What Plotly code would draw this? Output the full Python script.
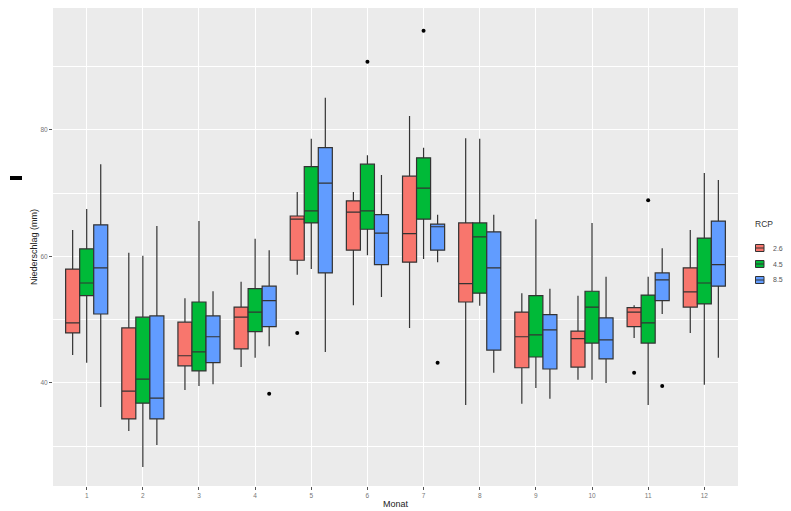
import plotly.graph_objects as go

months = list(range(1, 13))
month_labels = [str(m) for m in months]
rcp_names = ["2.6", "4.5", "8.5"]
rcp_colors = ["#F8766D", "#00BA38", "#619CFF"]

# per RCP: lower whisker, q1, median, q3, upper whisker (per month)
low = {
    "2.6": [44.4, 32.4, 38.9, 42.5, 57.1, 52.3, 48.7, 36.5, 36.7, 40.5, 47.1, 47.9],
    "4.5": [43.2, 26.7, 39.5, 44.0, 58.0, 60.2, 59.6, 52.2, 39.2, 40.5, 36.5, 39.7],
    "8.5": [36.2, 30.2, 39.8, 45.8, 44.9, 53.6, 59.1, 41.6, 37.5, 40.0, 50.9, 44.0],
}
q1 = {
    "2.6": [47.9, 34.3, 42.7, 45.4, 59.4, 61.0, 59.1, 52.8, 42.4, 42.5, 48.9, 52.0],
    "4.5": [53.8, 36.8, 41.9, 48.1, 65.3, 64.3, 65.9, 54.2, 44.1, 46.3, 46.3, 52.5],
    "8.5": [50.9, 34.3, 43.2, 48.9, 57.4, 58.7, 61.0, 45.2, 42.2, 43.8, 53.0, 55.3],
}
med = {
    "2.6": [49.5, 38.7, 44.3, 50.4, 65.9, 67.0, 63.6, 55.7, 47.3, 47.0, 51.2, 54.4],
    "4.5": [55.8, 40.6, 44.9, 51.2, 67.2, 67.2, 70.8, 63.1, 47.6, 52.0, 49.5, 55.8],
    "8.5": [58.2, 37.6, 47.3, 53.0, 71.6, 63.7, 64.7, 58.2, 48.4, 46.8, 56.3, 58.7],
}
q3 = {
    "2.6": [58.0, 48.7, 49.6, 52.0, 66.4, 68.8, 72.7, 65.3, 51.2, 48.2, 51.9, 58.2],
    "4.5": [61.2, 50.4, 52.8, 54.9, 74.2, 74.6, 75.6, 65.3, 53.8, 54.5, 53.9, 62.9],
    "8.5": [65.0, 50.6, 50.6, 55.3, 77.2, 66.6, 65.1, 63.9, 50.8, 50.3, 57.4, 65.6],
}
high = {
    "2.6": [64.2, 60.6, 53.4, 56.0, 70.2, 70.2, 82.2, 78.7, 54.2, 53.8, 52.3, 64.2],
    "4.5": [67.5, 60.1, 65.6, 62.8, 78.6, 76.0, 77.2, 78.6, 65.9, 65.3, 56.8, 73.2],
    "8.5": [74.6, 64.8, 54.5, 61.0, 85.1, 72.9, 66.6, 66.6, 54.9, 56.8, 61.3, 72.1],
}
# outliers: (month, value)
outliers = {
    "2.6": [(5, 47.9), (11, 41.6)],
    "4.5": [(6, 90.8), (7, 95.7), (11, 68.9)],
    "8.5": [(4, 38.3), (7, 43.2), (11, 39.5)],
}
legend_title = "RCP"

W, H = 791, 511
ML, MR, MT, MB = 53, 53, 8, 25
PW, PH = W - ML - MR, H - MT - MB


def px(x):  # pixel x -> paper
    return (x - ML) / PW


def py(y):  # pixel y -> paper
    return (H - MB - y) / PH


dodge_width = 0.75
n_groups = len(rcp_names)
box_w = dodge_width / n_groups

fig = go.Figure()
for i, name in enumerate(rcp_names):
    fig.add_trace(go.Box(
        x=months, q1=q1[name], median=med[name], q3=q3[name],
        lowerfence=low[name], upperfence=high[name],
        name=name, showlegend=False,
        fillcolor=rcp_colors[i],
        line=dict(color="#333333", width=1.2),
        boxpoints=False, whiskerwidth=0,
        hoverinfo="skip",
    ))
for i, name in enumerate(rcp_names):
    off = (i - (n_groups - 1) / 2) * box_w
    pts = outliers[name]
    fig.add_trace(go.Scatter(
        x=[m + off for m, _ in pts], y=[v for _, v in pts],
        mode="markers", marker=dict(color="black", size=4),
        showlegend=False, hoverinfo="skip",
    ))

# manual ggplot-style legend
shapes = [dict(type="rect", xref="paper", yref="paper",
               x0=px(10), x1=px(22), y0=py(180), y1=py(176),
               fillcolor="black", line=dict(width=0))]
annotations = [dict(text=legend_title, xref="paper", yref="paper",
                    x=px(753), y=py(224), xanchor="left", yanchor="middle",
                    showarrow=False, font=dict(size=8.5, color="#333333"))]
for i, name in enumerate(rcp_names):
    cy = 248 + 16 * i
    shapes.append(dict(type="rect", xref="paper", yref="paper",
                       x0=px(755.5), x1=px(764), y0=py(cy + 3.5), y1=py(cy - 3.5),
                       fillcolor=rcp_colors[i], line=dict(color="#333333", width=1)))
    shapes.append(dict(type="line", xref="paper", yref="paper",
                       x0=px(755.5), x1=px(764), y0=py(cy), y1=py(cy),
                       line=dict(color="#333333", width=1)))
    annotations.append(dict(text=name, xref="paper", yref="paper",
                            x=px(771), y=py(cy), xanchor="left", yanchor="middle",
                            showarrow=False, font=dict(size=7, color="#555555")))

fig.update_layout(
    width=W, height=H,
    margin=dict(l=ML, r=MR, t=MT, b=MB, autoexpand=False),
    paper_bgcolor="white", plot_bgcolor="#EBEBEB",
    boxmode="group", boxgap=1 - dodge_width, boxgroupgap=0,
    font=dict(family="Liberation Sans, Arial, sans-serif", color="#777777", size=6.5),
    showlegend=False,
    shapes=shapes, annotations=annotations,
)
fig.update_xaxes(
    range=[0.4, 12.6], tickmode="array", tickvals=months, ticktext=month_labels,
    showgrid=True, gridcolor="white", gridwidth=1.2, zeroline=False,
    ticks="outside", ticklen=3, tickcolor="#555555",
    title=dict(text="Monat", font=dict(size=9, color="#222222"), standoff=2),
)
fig.update_yaxes(
    range=[23.7, 99.29], tickvals=[40, 60, 80], ticktext=["40", "60", "80"],
    showgrid=True, gridcolor="white", gridwidth=1.2, zeroline=False,
    minor=dict(tickvals=[30, 50, 70, 90], showgrid=True, gridcolor="white", gridwidth=0.6, ticks=""),
    ticks="outside", ticklen=3, tickcolor="#555555",
    title=dict(text="Niederschlag (mm)", font=dict(size=9, color="#222222"), standoff=1),
)

fig.write_html("out.html", config={"displayModeBar": False},
               post_script="document.body.style.margin='0';document.body.style.overflow='hidden';")
